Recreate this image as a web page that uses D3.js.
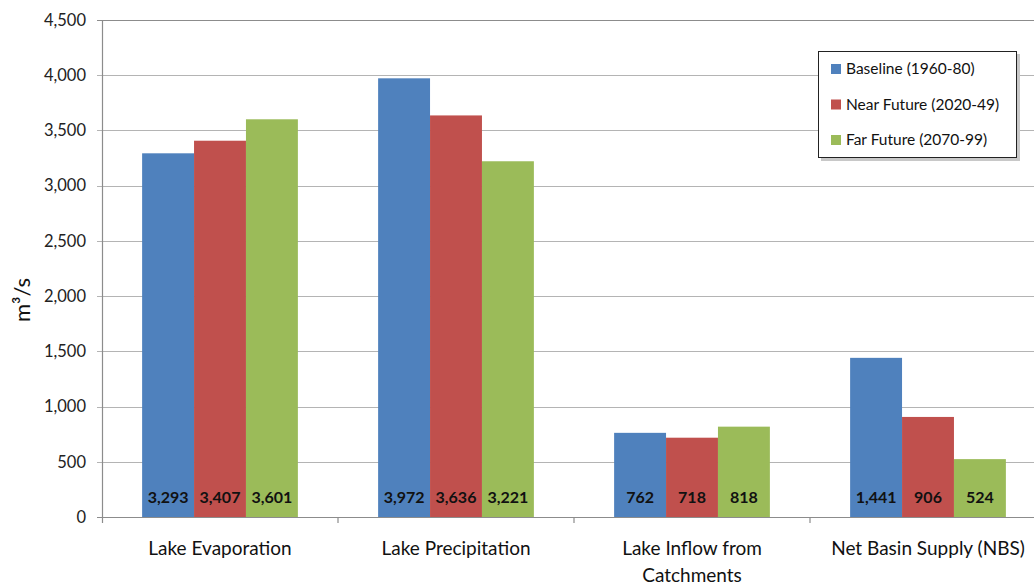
<!DOCTYPE html>
<html>
<head>
<meta charset="utf-8">
<script src="https://cdn.jsdelivr.net/npm/d3@7"></script>
<style>
  body { margin: 0; background: #fff; }
  svg { display: block; font-family: Lato, "Open Sans", sans-serif; }
</style>
</head>
<body>
<div id="chart"></div>
<script>
// data
const categories = ["Lake Evaporation", "Lake Precipitation", "Lake Inflow from Catchments", "Net Basin Supply (NBS)"]
const categoryLines = [["Lake Evaporation"], ["Lake Precipitation"], ["Lake Inflow from", "Catchments"], ["Net Basin Supply (NBS)"]]
const seriesNames = ["Baseline (1960-80)", "Near Future (2020-49)", "Far Future (2070-99)"]
const baseline = [3293, 3972, 762, 1441]
const nearFuture = [3407, 3636, 718, 906]
const farFuture = [3601, 3221, 818, 524]
const yTicks = [0, 500, 1000, 1500, 2000, 2500, 3000, 3500, 4000, 4500]
const colors = ["#4F81BD", "#C0504D", "#9BBB59"]

const W = 1034, H = 586
const margin = { top: 20, left: 102, bottom: 69 }
const plotRight = 1046 // plot runs past the right edge, as in the picture

const svg = d3.select("#chart").append("svg")
  .attr("width", W).attr("height", H)

const y = d3.scaleLinear().domain([0, 4500]).range([H - margin.bottom, margin.top])
const x0 = d3.scaleBand().domain(categories).range([margin.left, plotRight])
  .paddingInner(0.34).paddingOuter(0.17)
const x1 = d3.scaleBand().domain(seriesNames).range([0, x0.bandwidth()])
// band edges for the category tick marks
const step = (plotRight - margin.left) / categories.length

// gridlines
svg.append("g")
  .selectAll("line")
  .data(yTicks.filter(d => d > 0))
  .enter()
  .append("line")
    .attr("x1", margin.left - 5).attr("x2", plotRight)
    .attr("y1", d => Math.round(y(d)) + 0.5).attr("y2", d => Math.round(y(d)) + 0.5)
    .style("stroke", d => d === 4500 ? "#8c8c8c" : "#b4b4b4")
    .style("stroke-width", 1.2)

// bars
const values = [baseline, nearFuture, farFuture]
const groups = svg.append("g")
  .selectAll("g")
  .data(categories)
  .enter()
  .append("g")
  .attr("transform", d => "translate(" + x0(d) + ",0)")

groups.selectAll("rect")
  .data((c, ci) => seriesNames.map((s, si) => ({ s: s, si: si, v: values[si][ci] })))
  .enter()
  .append("rect")
    .attr("x", d => x1(d.s))
    .attr("width", x1.bandwidth())
    .attr("y", d => y(d.v))
    .attr("height", d => y(0) - y(d.v))
    .style("fill", d => colors[d.si])

groups.selectAll("text")
  .data((c, ci) => seriesNames.map((s, si) => ({ s: s, si: si, v: values[si][ci] })))
  .enter()
  .append("text")
    .attr("x", d => x1(d.s) + x1.bandwidth() / 2)
    .attr("y", y(0) - 14)
    .attr("text-anchor", "middle")
    .style("font-size", "16px")
    .style("font-weight", "bold")
    .style("fill", "#111")
    .text(d => d3.format(",")(d.v))

// axes lines
svg.append("line")
  .attr("x1", margin.left + 0.5).attr("x2", margin.left + 0.5)
  .attr("y1", y(4500)).attr("y2", y(0) + 6)
  .style("stroke", "#8c8c8c").style("stroke-width", 1.2)
svg.append("line")
  .attr("x1", margin.left - 5).attr("x2", plotRight)
  .attr("y1", Math.round(y(0)) + 0.5).attr("y2", Math.round(y(0)) + 0.5)
  .style("stroke", "#8c8c8c").style("stroke-width", 1.2)

// category tick marks
svg.append("g")
  .selectAll("line")
  .data(d3.range(1, categories.length))
  .enter()
  .append("line")
    .attr("x1", i => margin.left + i * step).attr("x2", i => margin.left + i * step)
    .attr("y1", y(0)).attr("y2", y(0) + 6)
    .style("stroke", "#8c8c8c").style("stroke-width", 1.2)

// y tick labels
svg.append("g")
  .selectAll("text")
  .data(yTicks)
  .enter()
  .append("text")
    .attr("x", margin.left - 16)
    .attr("y", d => y(d))
    .attr("dy", "0.35em")
    .attr("text-anchor", "end")
    .style("font-size", "16.5px")
    .style("fill", "#222")
    .text(d => d3.format(",")(d))

// y title
svg.append("text")
  .attr("transform", "translate(30,300) rotate(-90)")
  .attr("text-anchor", "middle")
  .style("font-size", "22px")
  .style("fill", "#111")
  .text("m³/s")

// x labels
const xl = svg.append("g")
  .selectAll("text")
  .data(categories)
  .enter()
  .append("text")
    .attr("x", d => x0(d) + x0.bandwidth() / 2)
    .attr("y", 555)
    .attr("text-anchor", "middle")
    .style("font-size", "19px")
    .style("fill", "#111")
xl.selectAll("tspan")
  .data((d, i) => categoryLines[i])
  .enter()
  .append("tspan")
    .attr("x", function() { return d3.select(this.parentNode).attr("x") })
    .attr("dy", (d, i) => i === 0 ? 0 : 27)
    .text(d => d)

// legend
const legend = svg.append("g").attr("transform", "translate(818,51)")
legend.append("rect")
  .attr("x", 3).attr("y", 3).attr("width", 199).attr("height", 107)
  .style("fill", "#c8c8c8")
legend.append("rect")
  .attr("x", 0.5).attr("y", 0.5).attr("width", 198).attr("height", 106)
  .style("fill", "#fff").style("stroke", "#222").style("stroke-width", 1)
const items = legend.selectAll("g.item")
  .data(seriesNames)
  .enter()
  .append("g")
  .attr("class", "item")
  .attr("transform", (d, i) => "translate(13," + (13 + i * 35.5) + ")")
items.append("rect")
  .attr("width", 10).attr("height", 10)
  .style("fill", (d, i) => colors[i])
items.append("text")
  .attr("x", 15).attr("y", 5).attr("dy", "0.35em")
  .style("font-size", "15.5px")
  .style("fill", "#111")
  .text(d => d)
</script>
</body>
</html>
